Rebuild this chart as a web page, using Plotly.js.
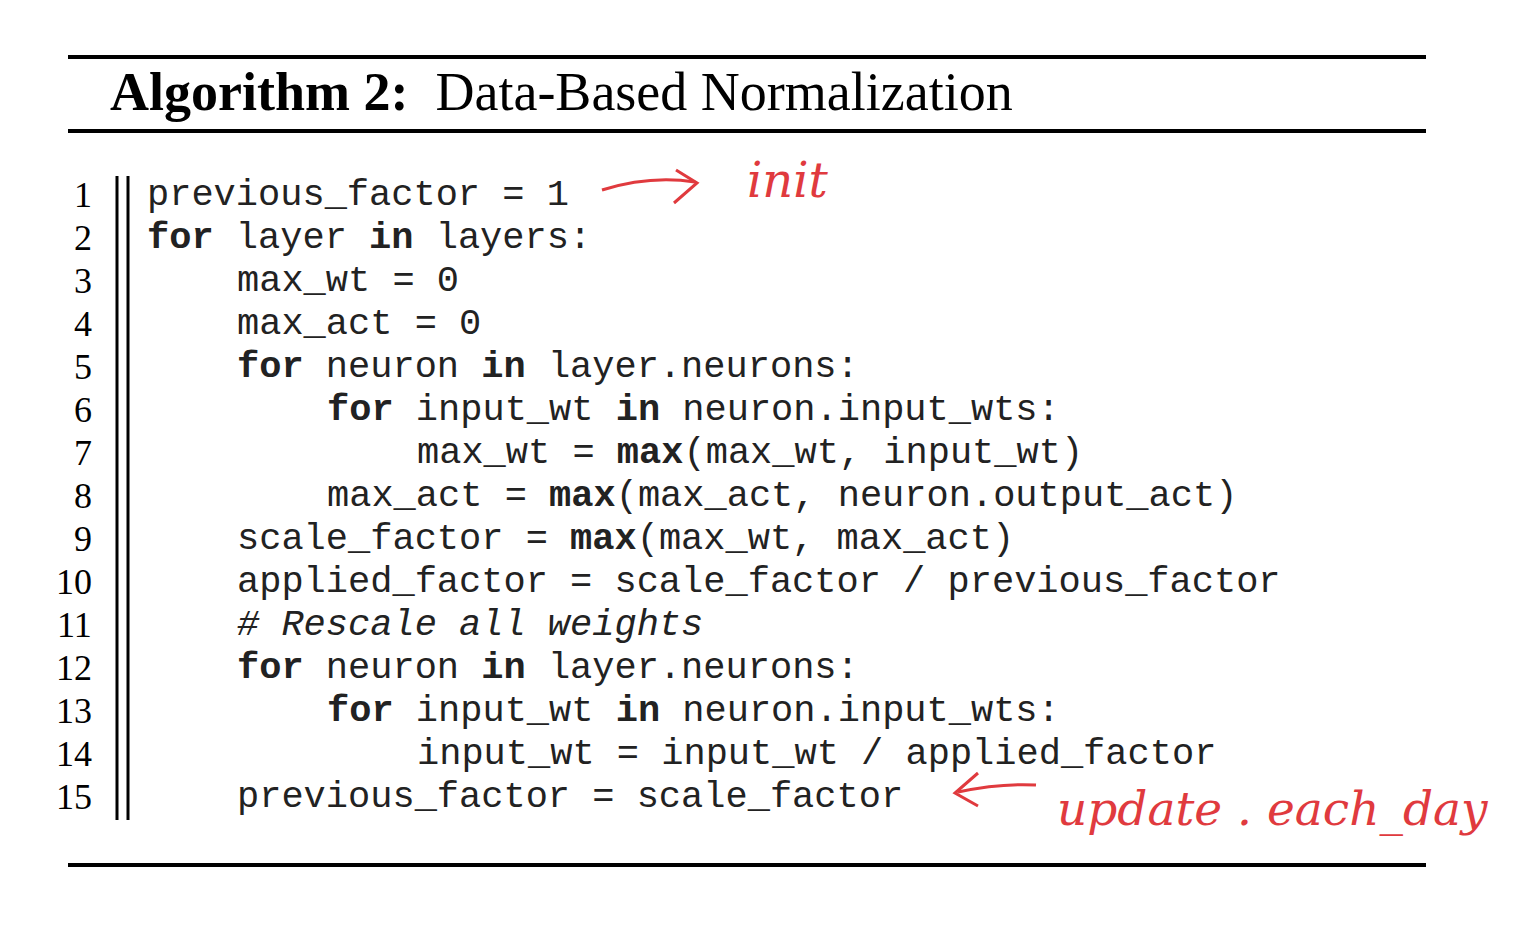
<!DOCTYPE html>
<html>
<head>
<meta charset="utf-8">
<script src="https://cdn.plot.ly/plotly-3.0.1.min.js"></script>
<style>html,body{margin:0;padding:0;background:#fff}#plot{width:1524px;height:937px}</style>
</head>
<body>
<div id="plot"></div>
<script>
// algorithm text
const titleBold = "Algorithm 2:";
const titleText = "Data-Based Normalization";
const codeLines = [
    "previous_factor = 1",
    "<b>for</b> layer <b>in</b> layers:",
    "    max_wt = 0",
    "    max_act = 0",
    "    <b>for</b> neuron <b>in</b> layer.neurons:",
    "        <b>for</b> input_wt <b>in</b> neuron.input_wts:",
    "            max_wt = <b>max</b>(max_wt, input_wt)",
    "        max_act = <b>max</b>(max_act, neuron.output_act)",
    "    scale_factor = <b>max</b>(max_wt, max_act)",
    "    applied_factor = scale_factor / previous_factor",
    "    <i># Rescale all weights</i>",
    "    <b>for</b> neuron <b>in</b> layer.neurons:",
    "        <b>for</b> input_wt <b>in</b> neuron.input_wts:",
    "            input_wt = input_wt / applied_factor",
    "    previous_factor = scale_factor"
];
const noteInit = "init";
const noteUpdate = "update . each_day";

const charW = 22.5, codeX = 145, rowY0 = 195, rowStep = 43.0;
const annotations = [];
const shapes = [];

annotations.push({
    x: 108, y: 92, xref: "x", yref: "y", xanchor: "left", yanchor: "middle", showarrow: false,
    text: "<b>" + titleBold + "</b>  " + titleText,
    font: {family: "Liberation Serif", size: 54, color: "#000"}
});

codeLines.forEach((line, i) => {
    const y = rowY0 + i * rowStep;
    const indent = line.length - line.replace(/^ +/, "").length;
    annotations.push({
        x: 94, y: y, xref: "x", yref: "y", xanchor: "right", yanchor: "middle", showarrow: false,
        text: String(i + 1), font: {family: "Liberation Serif", size: 36, color: "#000"}
    });
    annotations.push({
        x: codeX + indent * charW, y: y, xref: "x", yref: "y", xanchor: "left", yanchor: "middle", showarrow: false,
        text: line.trim(), font: {family: "Liberation Mono", size: 37, color: "#222"}
    });
});

// handwritten notes
const red = "#e03a3e";
annotations.push({x: 745, y: 180, xref: "x", yref: "y", xanchor: "left", yanchor: "middle", showarrow: false,
    text: "<i>" + noteInit + "</i>", font: {family: "DejaVu Serif", size: 48, color: red}});
annotations.push({x: 1055, y: 808, xref: "x", yref: "y", xanchor: "left", yanchor: "middle", showarrow: false,
    text: "<i>" + noteUpdate + "</i>", font: {family: "DejaVu Serif", size: 47, color: red}});

const rule = (y, w) => ({type: "line", xref: "x", yref: "y", x0: 68, x1: 1426, y0: y, y1: y, line: {color: "#000", width: w}});
shapes.push(rule(57, 4), rule(131, 4), rule(865, 4));
const vbar = x => ({type: "line", xref: "x", yref: "y", x0: x, x1: x, y0: 176, y1: 820, line: {color: "#000", width: 3}});
shapes.push(vbar(117), vbar(128));
const pen = d => ({type: "path", xref: "x", yref: "y", path: d, line: {color: red, width: 3}});
shapes.push(pen("M602,190 Q650,175 695,182"), pen("M676,170 L697,183 L674,203"));
shapes.push(pen("M1036,785 Q1000,783 958,792"), pen("M978,773 L955,793 L978,806"));

Plotly.newPlot("plot", [], {
    width: 1524, height: 937,
    margin: {l: 0, r: 0, t: 0, b: 0},
    paper_bgcolor: "white", plot_bgcolor: "white",
    xaxis: {range: [0, 1524], visible: false, fixedrange: true},
    yaxis: {range: [937, 0], visible: false, fixedrange: true},
    annotations: annotations,
    shapes: shapes,
    showlegend: false
}, {staticPlot: true});
</script>
</body>
</html>
